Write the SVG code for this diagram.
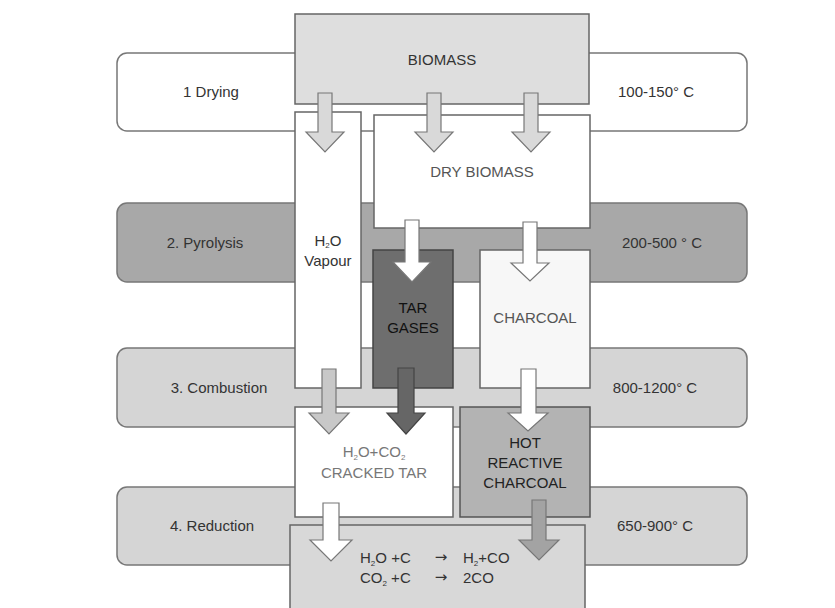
<svg xmlns="http://www.w3.org/2000/svg" width="835" height="608" viewBox="0 0 835 608">
<style>
text{font-family:"Liberation Sans",Arial,sans-serif;font-size:15px;fill:#333;text-anchor:middle}
.row{stroke:#777;stroke-width:1.5}
.box{stroke:#666;stroke-width:1.5}
.arr{stroke:#777;stroke-width:1.2;stroke-linejoin:miter}
.sub{font-size:8px}
.eq{text-anchor:start}
.to{font-family:"DejaVu Sans",sans-serif;font-size:15px;text-anchor:middle}
</style>
<rect width="835" height="608" fill="#fff"/>
<g id="row-drying">
<rect class="row" x="117" y="53" width="630" height="78" rx="10" fill="#fff"/>
<text x="211" y="97">1 Drying</text>
<text x="656" y="97">100-150° C</text>
</g>
<g id="row-pyrolysis">
<rect class="row" x="117" y="203" width="630" height="79" rx="10" fill="#a8a8a8"/>
<text x="205" y="248">2. Pyrolysis</text>
<text x="662" y="248">200-500 ° C</text>
</g>
<g id="row-combustion">
<rect class="row" x="117" y="348" width="630" height="79" rx="10" fill="#d5d5d5"/>
<text x="219" y="393">3. Combustion</text>
<text x="655" y="393">800-1200° C</text>
</g>
<g id="row-reduction">
<rect class="row" x="117" y="487" width="630" height="78" rx="10" fill="#d5d5d5"/>
<text x="212" y="531">4. Reduction</text>
<text x="655" y="531">650-900° C</text>
</g>
<g id="biomass">
<rect class="box" x="295" y="14" width="294" height="90" fill="#dedede"/>
<text x="442" y="65">BIOMASS</text>
</g>
<g id="h2o-vapour">
<rect class="box" x="295" y="112" width="66" height="276" fill="#fff"/>
<text x="328" y="246">H<tspan class="sub" dy="2">2</tspan><tspan dy="-2">O</tspan></text>
<text x="328" y="266">Vapour</text>
</g>
<g id="dry-biomass">
<rect class="box" x="374" y="115" width="216" height="113" fill="#fff"/>
<text x="482" y="177" style="fill:#555">DRY BIOMASS</text>
</g>
<g id="tar-gases">
<rect class="box" x="373" y="250" width="80" height="138" fill="#6e6e6e" style="stroke:#444"/>
<text x="413" y="313" style="fill:#111">TAR</text>
<text x="413" y="333" style="fill:#111">GASES</text>
</g>
<g id="charcoal">
<rect class="box" x="480" y="250" width="110" height="138" fill="#f7f7f7"/>
<text x="535" y="323" style="fill:#555">CHARCOAL</text>
</g>
<g id="cracked-tar">
<rect class="box" x="295" y="407" width="158" height="110" fill="#fff"/>
<text x="374" y="457" style="fill:#777">H<tspan class="sub" dy="3">2</tspan><tspan dy="-3">O+CO</tspan><tspan class="sub" dy="3">2</tspan></text>
<text x="374" y="478" style="fill:#777">CRACKED TAR</text>
</g>
<g id="hot-charcoal">
<rect class="box" x="460" y="407" width="130" height="110" fill="#b3b3b3" style="stroke:#555"/>
<text x="525" y="448" style="fill:#222">HOT</text>
<text x="525" y="468" style="fill:#222">REACTIVE</text>
<text x="525" y="488" style="fill:#222">CHARCOAL</text>
</g>
<g id="reaction">
<rect class="box" x="290" y="525" width="295" height="95" fill="#d8d8d8"/>
<text class="eq" x="360" y="563">H<tspan class="sub" dy="3">2</tspan><tspan dy="-3">O +C</tspan></text>
<text class="to" x="441" y="562">→</text>
<text class="eq" x="463" y="563">H<tspan class="sub" dy="3">2</tspan><tspan dy="-3">+CO</tspan></text>
<text class="eq" x="360" y="583">CO<tspan class="sub" dy="3">2</tspan><tspan dy="-3"> +C</tspan></text>
<text class="to" x="441" y="582">→</text>
<text class="eq" x="463" y="583">2CO</text>
</g>
<g id="connectors">
<polygon class="arr" fill="#d9d9d9" points="318,93 332,93 332,132 344,132 325,152 306,132 318,132"/>
<polygon class="arr" fill="#d9d9d9" points="427,93 441,93 441,132 453,132 434,152 415,132 427,132"/>
<polygon class="arr" fill="#d9d9d9" points="524,93 538,93 538,132 550,132 531,152 512,132 524,132"/>
<polygon class="arr" fill="#fff" points="405,220 419,220 419,262 431,262 412,282 393,262 405,262"/>
<polygon class="arr" fill="#fff" points="523,222 537,222 537,263 549,263 530,281 511,263 523,263"/>
<polygon class="arr" fill="#c8c8c8" points="322,369 336,369 336,413 349,413 329,434 309,413 322,413"/>
<polygon class="arr" fill="#666" style="stroke:#444" points="398,368 414,368 414,413 425,413 406,434 387,413 398,413"/>
<polygon class="arr" fill="#fff" points="521,369 536,369 536,413 548,413 528,431 508,413 521,413"/>
<polygon class="arr" fill="#fff" points="323,503 339,503 339,540 352,540 331,561 310,540 323,540"/>
<polygon class="arr" fill="#a3a3a3" points="532,500 546,500 546,540 559,540 539,560 519,540 532,540"/>
</g>
</svg>
